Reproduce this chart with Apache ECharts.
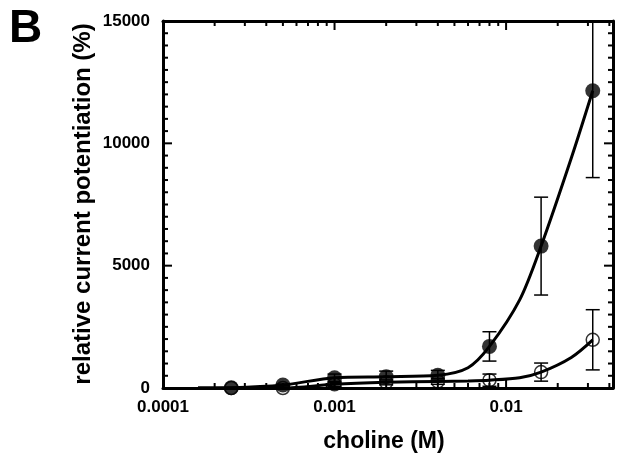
<!DOCTYPE html>
<html>
<head>
<meta charset="utf-8">
<script src="https://cdn.jsdelivr.net/npm/echarts@6/dist/echarts.min.js"></script>
<style>
html,body{margin:0;padding:0;background:#fff;}
#chart{width:626px;height:456px;}
</style>
</head>
<body>
<div id="chart"></div>
<script>
// concentrations (M)
const conc = [0.00025, 0.0005, 0.001, 0.002, 0.004, 0.008, 0.016, 0.032];
// filled circles
const filledMean = [10, 120, 420, 460, 520, 1700, 5800, 12150];
const filledErr  = [0, 40, 150, 230, 200, 600, 2000, 3550];
// open circles
const openMean = [0, 0, 150, 230, 270, 320, 650, 1970];
const openErr  = [0, 0, 80, 100, 120, 250, 370, 1230];
// fitted curves
const curveX      = [0.00016, 0.00025, 0.0005, 0.001, 0.002, 0.004, 0.006, 0.008, 0.012, 0.016, 0.024, 0.032];
const curveFilled = [0, 10, 120, 420, 460, 520, 830, 1700, 3600, 5800, 9400, 12150];
const curveOpen   = [0, 0, 0, 150, 230, 270, 290, 320, 420, 650, 1250, 1970];
// tick values
const xMajor = [0.0001, 0.001, 0.01];
const xMinor = [0.0002,0.0003,0.0004,0.0005,0.0006,0.0007,0.0008,0.0009,
                0.002,0.003,0.004,0.005,0.006,0.007,0.008,0.009,
                0.02,0.03,0.04];
const yMajor = [0, 5000, 10000, 15000];
const yMinor = [500,1000,1500,2000,2500,3000,3500,4000,4500,
                5500,6000,6500,7000,7500,8000,8500,9000,9500,
                10500,11000,11500,12000,12500,13000,13500,14000,14500];
const xMin = 0.0001, xMax = 0.042;
const yMin = 0, yMax = 15000, yInterval = 5000;
// texts
const panelLabel = 'B';
const xTitle = 'choline (M)';
const yTitle = 'relative current potentiation (%)';

const FONT = '"Liberation Sans", Arial, sans-serif';
const MAJOR_LEN = 9, MINOR_LEN = 5;

function xAxisDef(pos, showLabel, showLine) {
  return {
    type: 'log', position: pos, min: xMin, max: xMax, logBase: 10,
    axisLine: {show: showLine, onZero: false, lineStyle: {color:'#000', width: 3}},
    axisTick: {show: false},
    axisLabel: showLabel ? {show: true, customValues: xMajor, margin: 11,
               color:'#000', fontFamily: FONT, fontWeight:'bold', fontSize: 17,
               formatter: v => String(+v.toPrecision(6))} : {show:false},
    splitLine: {show:false}, minorTick:{show:false}
  };
}
function yAxisDef(pos, showLabel) {
  return {
    type: 'value', position: pos, min: yMin, max: yMax, interval: yInterval,
    axisLine: {show:true, onZero:false, lineStyle:{color:'#000', width:3}},
    axisTick: {show:false},
    minorTick: {show:false},
    axisLabel: showLabel ? {show:true, margin: 13, color:'#000', fontFamily: FONT,
               fontWeight:'bold', fontSize: 17, formatter: v => String(v)} : {show:false},
    splitLine: {show:false}
  };
}

function pairs(xs, ys) { return xs.map((x, i) => [x, ys[i]]); }
function errData(xs, m, e) { return xs.map((x, i) => [x, m[i], m[i] - e[i], m[i] + e[i]]); }

// tick marks: [x, y, kind (0 = x-axis tick, 1 = y-axis tick), length]
const tickData = [].concat(
  xMajor.map(v => [v, yMin, 0, MAJOR_LEN]),
  xMinor.map(v => [v, yMin, 0, MINOR_LEN]),
  yMajor.map(v => [xMin, v, 1, MAJOR_LEN]),
  yMinor.map(v => [xMin, v, 1, MINOR_LEN])
);

function tickRender(params, api) {
  const kind = api.value(2), len = api.value(3);
  const style = {stroke:'#000', lineWidth:2};
  if (kind === 0) {
    const x = api.value(0);
    const b = api.coord([x, yMin]), t = api.coord([x, yMax]);
    return {type:'group', children:[
      {type:'line', shape:{x1:b[0], y1:b[1], x2:b[0], y2:b[1]-len}, style},
      {type:'line', shape:{x1:t[0], y1:t[1], x2:t[0], y2:t[1]+len}, style}
    ]};
  }
  const y = api.value(1);
  const l = api.coord([xMin, y]), r = api.coord([xMax, y]);
  return {type:'group', children:[
    {type:'line', shape:{x1:l[0], y1:l[1], x2:l[0]+len, y2:l[1]}, style},
    {type:'line', shape:{x1:r[0], y1:r[1], x2:r[0]-len, y2:r[1]}, style}
  ]};
}

function errRender(params, api) {
  const x = api.value(0);
  const lo = api.coord([x, api.value(2)]);
  const hi = api.coord([x, api.value(3)]);
  const w = 7;
  const style = {stroke:'#000', lineWidth:1.5};
  return {
    type:'group',
    children:[
      {type:'line', shape:{x1:lo[0], y1:lo[1], x2:hi[0], y2:hi[1]}, style},
      {type:'line', shape:{x1:lo[0]-w, y1:lo[1], x2:lo[0]+w, y2:lo[1]}, style},
      {type:'line', shape:{x1:hi[0]-w, y1:hi[1], x2:hi[0]+w, y2:hi[1]}, style}
    ]
  };
}

const chart = echarts.init(document.getElementById('chart'));
chart.setOption({
  animation: false,
  grid: {left: 163, right: 13, top: 21, bottom: 68, outerBoundsMode: 'none'},
  xAxis: [
    xAxisDef('bottom', true, true),
    xAxisDef('top', false, true)
  ],
  yAxis: [yAxisDef('left', true), yAxisDef('right', false)],
  graphic: [
    {type:'text', left: 9, top: 6, style:{text: panelLabel, fill:'#000',
      font: 'bold 46px ' + FONT}},
    {type:'text', x: 384, y: 442, style:{text: xTitle, fill:'#000', align:'center', verticalAlign:'middle',
      textAlign:'center', textVerticalAlign:'middle', font: 'bold 23px ' + FONT}},
    {type:'text', x: 83, y: 204, rotation: Math.PI / 2, style:{text: yTitle, fill:'#000', align:'center', verticalAlign:'middle',
      textAlign:'center', textVerticalAlign:'middle', font: 'bold 24px ' + FONT}}
  ],
  series: [
    {type:'custom', name:'ticks', data: tickData, renderItem: tickRender, clip: false,
     encode:{x:0, y:1}, silent: true, z: 10},
    {type:'line', data: pairs(curveX, curveFilled), smooth: 0.3,
     showSymbol:false, lineStyle:{color:'#000', width:3}},
    {type:'line', data: pairs(curveX, curveOpen), smooth: 0.3,
     showSymbol:false, lineStyle:{color:'#000', width:3}},
    {type:'custom', data: errData(conc, filledMean, filledErr),
     renderItem: errRender, clip: true, encode:{x:0, y:[1,2,3]}},
    {type:'custom', data: errData(conc, openMean, openErr),
     renderItem: errRender, clip: true, encode:{x:0, y:[1,2,3]}},
    {type:'scatter', data: pairs(conc, openMean), symbol:'circle', symbolSize: 13,
     itemStyle:{color:'rgba(255,255,255,0)', borderColor:'#000', borderWidth:1.5}},
    {type:'scatter', data: pairs(conc, filledMean), symbol:'circle', symbolSize: 15,
     itemStyle:{color:'#000'}}
  ]
});
</script>
</body>
</html>
